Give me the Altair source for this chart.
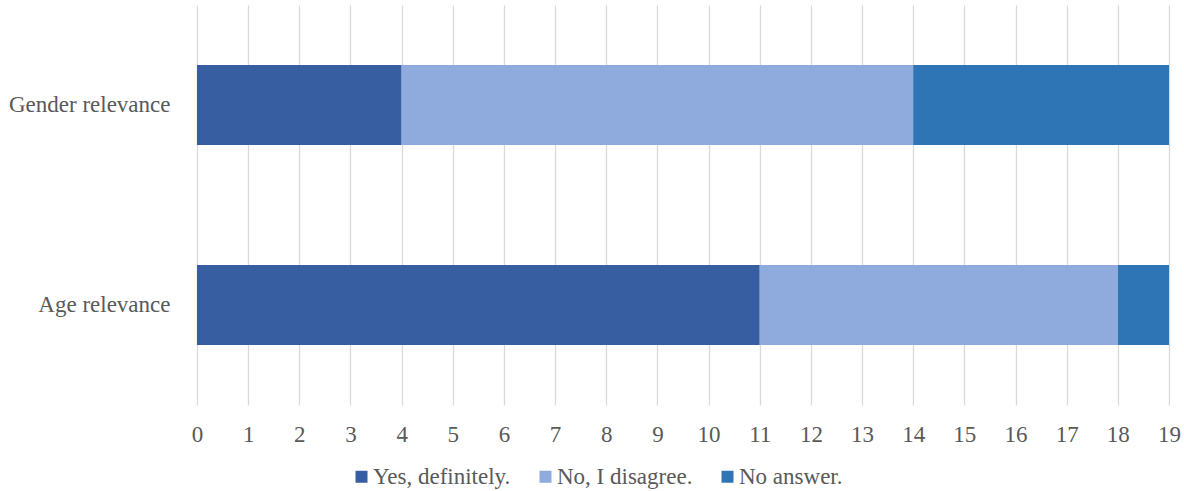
import altair as alt
import pandas as pd

categories = ["Gender relevance", "Age relevance"]
series = ["Yes, definitely.", "No, I disagree.", "No answer."]
yes_vals = [4, 11]
no_vals = [10, 7]
na_vals = [5, 1]
colors = ["#375EA0", "#8FAADC", "#2E75B6"]

rows = []
for i, c in enumerate(categories):
    for j, (s, v) in enumerate(zip(series, [yes_vals[i], no_vals[i], na_vals[i]])):
        rows.append({"category": c, "series": s, "value": v, "order": j})
df = pd.DataFrame(rows)

font = "Liberation Serif"
fs = 23
chart = alt.Chart(df).mark_bar().encode(
    y=alt.Y("category:N", sort=categories, title=None,
            scale=alt.Scale(paddingInner=0.6, paddingOuter=0.3),
            axis=alt.Axis(domain=False, ticks=False, labelPadding=27, labelFontSize=fs,
                          labelFont=font, labelColor="#595959", grid=False)),
    x=alt.X("value:Q", title=None, stack="zero",
            scale=alt.Scale(domain=[0, 19], nice=False),
            axis=alt.Axis(values=list(range(20)), domain=False, ticks=False, labelPadding=18,
                          labelFlush=False, labelFontSize=fs, labelFont=font,
                          labelColor="#595959", gridColor="#D9D9D9", gridWidth=1.3)),
    color=alt.Color("series:N", sort=series,
                    scale=alt.Scale(domain=series, range=colors),
                    legend=alt.Legend(title=None, orient="none", direction="horizontal",
                                      legendX=153, legendY=460, symbolType="square",
                                      symbolSize=144, symbolStrokeWidth=0, labelFontSize=fs,
                                      labelFont=font, labelColor="#595959", columnPadding=23,
                                      labelOffset=0)),
    order=alt.Order("order:Q"),
).properties(
    width=972, height=400,
    autosize=alt.AutoSizeParams(type="none"),
    padding={"left": 197, "top": 5, "right": 15, "bottom": 86},
).configure_view(stroke=None)

chart.save("out.html", embed_options={"renderer": "svg", "actions": False})
